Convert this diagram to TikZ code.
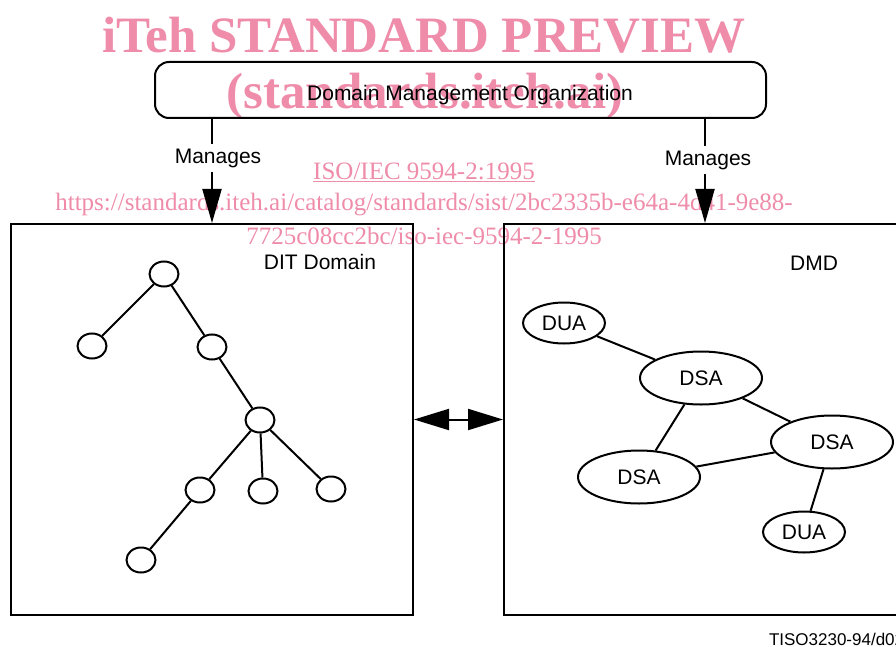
\documentclass[tikz,border=0pt]{standalone}
\usepackage{fontspec}
\setmainfont{Liberation Sans}
\newfontfamily\wmfont{Liberation Serif}
\usetikzlibrary{shapes.geometric,arrows.meta}
\definecolor{wmpink}{RGB}{238,140,170}

\begin{document}
\begin{tikzpicture}[x=1pt, y=-1pt, line width=2pt,
		every node/.style={font=\fontsize{21}{24}\selectfont},
		domainbox/.style={draw, minimum width=402pt, minimum height=391pt, inner sep=0pt},
		treenode/.style={ellipse, draw, minimum width=29pt, minimum height=25pt, inner sep=0pt},
		dsanode/.style={ellipse, draw, minimum width=122pt, minimum height=53pt, inner sep=0pt},
		duanode/.style={ellipse, draw, minimum width=82pt, minimum height=41pt, inner sep=0pt},
		wmtext/.style={text=wmpink, font=\wmfont\fontsize{25}{28}\selectfont},
		wmbig/.style={text=wmpink, font=\wmfont\bfseries\fontsize{51}{56}\selectfont},
		bigtip/.style={-{Triangle[length=34pt, width=19pt]}},
		linktip/.style={{Triangle[length=35pt, width=21pt]}-{Triangle[length=35pt, width=21pt]}}]
			\useasboundingbox (0,0) rectangle (896,647);

			% Watermark
			\node[wmbig] (wmtitle) at (424,35) {iTeh STANDARD PREVIEW};
			\node[wmbig] (wmsite) at (425,96) {(standards.iteh.ai)};
			\node[wmtext] (wmiso) at (424,172) {\underline{ISO/IEC 9594-2:1995}};
			\node[wmtext] (wmurla) at (424,205) {https://standards.iteh.ai/catalog/standards/sist/2bc2335b-e64a-4d41-9e88-};
			\node[wmtext] (wmurlb) at (424,236) {7725c08cc2bc/iso-iec-9594-2-1995};

			% Organization and domains
			\node[draw, rounded corners=14pt, minimum width=611pt, minimum height=56pt] (dmo) at (460.5,90) {};
			\node (dmolabel) at (470,95) {Domain Management Organization};
			\node[domainbox] (dit) at (212,419.5) {};
			\node[domainbox] (dmd) at (705,419.5) {};
			\node (ditlabel) at (320,262) {DIT Domain};
			\node (dmdlabel) at (814,263) {DMD};

			% Manages arrows
			\node[inner sep=4pt] (mng1) at (218,158) {Manages};
			\node[inner sep=4pt] (mng2) at (708,160) {Manages};
			\draw (dmo.south -| dit.north) -- (mng1.north -| dit.north);
			\draw[bigtip] (mng1.south -| dit.north) -- (dit.north);
			\draw (dmo.south -| dmd.north) -- (mng2.north -| dmd.north);
			\draw[bigtip] (mng2.south -| dmd.north) -- (dmd.north);
			\draw[linktip] (dit.east) -- (dmd.west);

			% DIT tree
			\node[treenode] (root) at (164,274) {};
			\node[treenode] (left) at (92,346) {};
			\node[treenode] (mid) at (212,347) {};
			\node[treenode] (hub) at (260,420) {};
			\node[treenode] (leafa) at (200,490) {};
			\node[treenode] (leafb) at (263,491) {};
			\node[treenode] (leafc) at (331,489) {};
			\node[treenode] (deep) at (141,560) {};
			\draw (root) -- (left);
			\draw (root) -- (mid);
			\draw (mid) -- (hub);
			\draw (hub) -- (leafa);
			\draw (hub) -- (leafb);
			\draw (hub) -- (leafc);
			\draw (leafa) -- (deep);

			% DSAs and DUAs
			\node[duanode] (duaa) at (564,323) {DUA};
			\node[dsanode] (dsaa) at (701,378) {DSA};
			\node[dsanode] (dsab) at (832,442) {DSA};
			\node[dsanode] (dsac) at (639,477) {DSA};
			\node[duanode] (duab) at (804,532) {DUA};
			\draw (duaa) -- (dsaa);
			\draw (dsaa) -- (dsab);
			\draw (dsaa) -- (dsac);
			\draw (dsac) -- (dsab);
			\draw (dsab) -- (duab);

			\node[anchor=west, inner sep=0pt, font=\fontsize{17}{20}\selectfont] (figid) at (768,639) {TISO3230-94/d02};
		\end{tikzpicture}
\end{document}
